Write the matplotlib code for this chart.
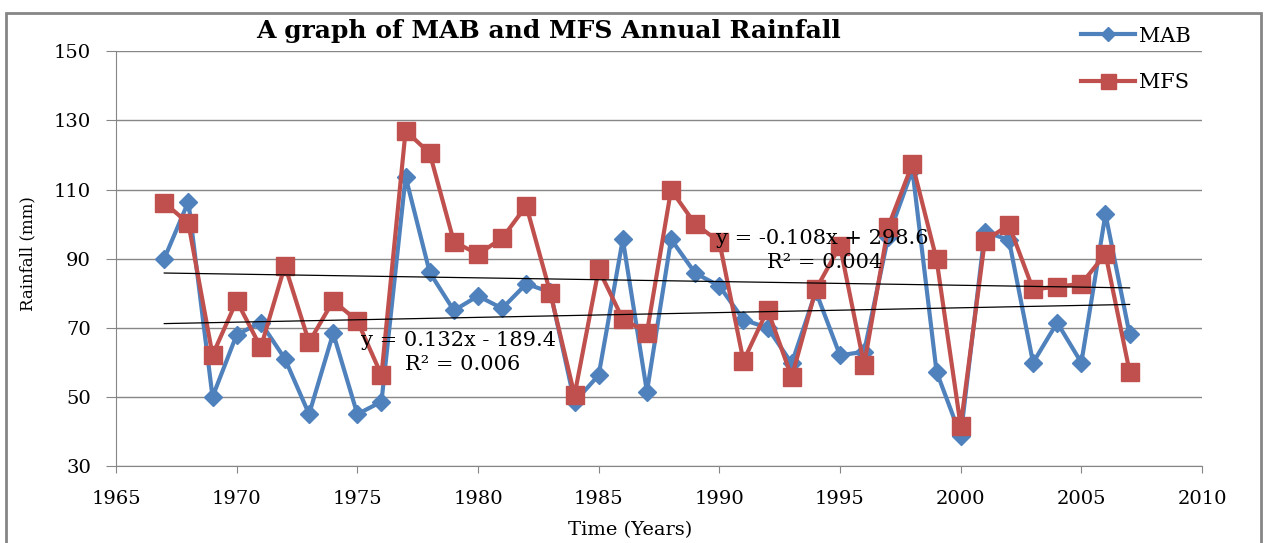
import numpy as np
import matplotlib.pyplot as plt
from matplotlib.patches import Rectangle

plt.rcParams['font.family'] = ['DejaVu Serif']

# ### data
years = list(range(1967, 2008))
mab = [90, 106.5, 50, 68, 71.5, 61, 45, 68.4, 45, 48.6,
       113.7, 86, 75, 79.2, 75.6, 82.7, 80.3, 48.5, 56.3, 95.6,
       51.5, 95.6, 85.8, 82.1, 72.3, 70, 59.7, 80.5, 62, 63.1,
       96.4, 115.7, 57.3, 38.7, 97.8, 95.4, 59.9, 71.5, 59.9, 102.9,
       68.1]
mfs = [106.2, 100.2, 62.1, 77.8, 64.3, 88, 65.8, 77.8, 72, 56.3,
       127, 120.5, 94.9, 91.3, 95.9, 105.3, 80, 50.5, 86.9, 72.5,
       68.6, 109.9, 100, 94.9, 60.4, 75.2, 55.7, 81.1, 93.7, 59.2,
       99.3, 117.4, 89.8, 41.6, 95.1, 99.8, 81.1, 81.9, 82.7, 91.4,
       57.3]
xticks = list(range(1965, 2011, 5))
yticks = list(range(30, 151, 20))

blue = '#4F81BD'
red = '#C0504D'
grid = '#868686'

W, H = 1268, 543
fig = plt.figure(figsize=(W / 100, H / 100), dpi=100)
ax = fig.add_axes([116 / W, 1 - 466 / H, 1086 / W, 414.7 / H])

ax.plot(years, mab, color=blue, lw=3, marker='D', ms=9.5, label='MAB', zorder=3)
ax.plot(years, mfs, color=red, lw=3, marker='s', ms=13.5, label='MFS', zorder=4)

# ## linear trend lines
yr = np.array(years)
for s in (mab, mfs):
    k, b = np.polyfit(yr, s, 1)
    ax.plot(yr, k * yr + b, color='black', lw=0.9, zorder=5)

ax.set_xlim(1965, 2010)
ax.set_ylim(30, 150)
ax.set_xticks(xticks)
ax.set_yticks(yticks)
ax.tick_params(axis='both', colors=grid, labelcolor='black', labelsize=14)
ax.tick_params(axis='x', length=5, pad=12)
ax.tick_params(axis='y', length=7, pad=11)
ax.grid(axis='y', color=grid, lw=1)
ax.set_axisbelow(True)
for sp in ('top', 'right'):
    ax.spines[sp].set_visible(False)
for sp in ('left', 'bottom'):
    ax.spines[sp].set_color(grid)

def ftext(x, y, s, **kw):
    fig.text(x / W, 1 - y / H, s, va='center', **kw)

ftext(548, 31, 'A graph of MAB and MFS Annual Rainfall', ha='center',
      fontsize=18, fontweight='bold')
ftext(630, 530, 'Time (Years)', ha='center', fontsize=14)
ftext(28, 254, 'Rainfall (mm)', ha='center', fontsize=12, rotation=90)
ftext(361, 341, 'y = 0.132x - 189.4', ha='left', fontsize=15)
ftext(405, 364, 'R² = 0.006', ha='left', fontsize=15)
ftext(716, 238, 'y = -0.108x + 298.6', ha='left', fontsize=15)
ftext(767, 263, 'R² = 0.004', ha='left', fontsize=15)

fig.legend(loc='upper left', bbox_to_anchor=(1062 / W, 1 - 8 / H),
           frameon=False, fontsize=15, handlelength=2.6, labelspacing=1.3,
           handletextpad=0.2, markerscale=0.8)

fig.patches.append(Rectangle((6 / W, -0.1), 1255 / W, 1.1 - 13 / H,
                             transform=fig.transFigure, fill=False,
                             edgecolor=grid, lw=2))

fig.savefig('out.png', dpi=100)
